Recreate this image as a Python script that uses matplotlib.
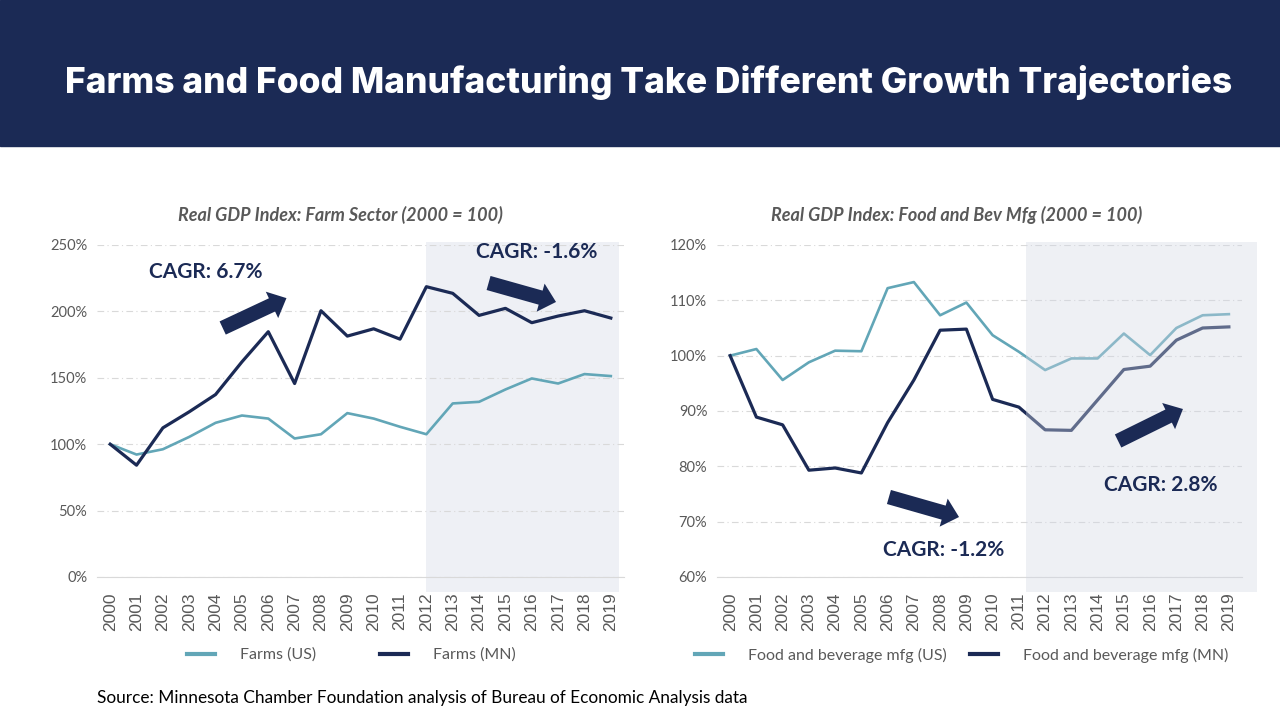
import matplotlib
matplotlib.use("Agg")
import matplotlib.pyplot as plt
import matplotlib.ticker as mticker
from matplotlib.patches import Rectangle

# --- data ---
years = [str(y) for y in range(2000, 2020)]

farms_us = [100, 92.2, 96.2, 105.5, 116.1, 121.6, 119.3, 104.3, 107.5, 123.4,
            119.3, 113.1, 107.5, 130.7, 131.9, 141.2, 149.5, 145.7, 152.8, 151.3]
farms_mn = [100, 84.2, 112.3, 124.4, 137.4, 162.0, 184.7, 145.7, 200.5, 181.4,
            186.9, 179.1, 218.6, 213.6, 197.0, 202.3, 191.5, 196.5, 200.5, 195.0]

food_us = [100, 101.2, 95.6, 98.8, 100.9, 100.8, 112.2, 113.3, 107.3, 109.6,
           103.7, 100.7, 97.4, 99.5, 99.5, 104.0, 100.1, 105.0, 107.3, 107.5]
food_mn = [100, 88.9, 87.5, 79.3, 79.7, 78.8, 87.9, 95.6, 104.6, 104.8,
           92.1, 90.7, 86.6, 86.5, 92.0, 97.5, 98.1, 102.8, 105.0, 105.2]

NAVY = "#1b2a55"
TEAL = "#62a6b7"
GREY = "#595959"
SHADE = "#eef0f5"

fig = plt.figure(figsize=(12.8, 7.2), dpi=100)
fig.patch.set_facecolor("white")

# header banner
fig.patches.append(Rectangle((0, 1 - 146 / 720), 1, 146 / 720, transform=fig.transFigure,
                             color=NAVY, zorder=0))
fig.text(65 / 1280, 1 - 82 / 720, "Farms and Food Manufacturing Take Different Growth Trajectories",
         color="white", fontsize=25.5, fontweight=800, family="Inter", ha="left", va="center")

ax1 = fig.add_axes([97 / 1280, 1 - 577 / 720, 527 / 1280, 332 / 720])
ax2 = fig.add_axes([717 / 1280, 1 - 577 / 720, 525 / 1280, 332 / 720])

x = list(range(len(years)))


def style_axis(ax, ylim, step):
    ax.set_xlim(-0.5, len(years) - 0.5)
    ax.set_ylim(*ylim)
    ax.yaxis.set_major_locator(mticker.MultipleLocator(step))
    ax.yaxis.set_major_formatter(mticker.FuncFormatter(lambda v, p: f"{v:.0f}%"))
    for s in ["top", "right", "left"]:
        ax.spines[s].set_visible(False)
    ax.spines["bottom"].set_color("#d9d9d9")
    ax.spines["bottom"].set_zorder(1)
    ax.grid(axis="y", color="#d9d9d9", linestyle=(0, (6, 3, 1, 3)), linewidth=0.8)
    ax.set_axisbelow(True)
    ax.set_xticks(x)
    ax.set_xticklabels(years, rotation=90, fontsize=12.5, color=GREY, family="Liberation Sans")
    ax.tick_params(axis="x", length=0, pad=11)
    ax.tick_params(axis="y", length=0, pad=7, labelsize=10.5, labelcolor=GREY)
    for lab in ax.get_yticklabels():
        lab.set_family("Lato")


style_axis(ax1, (0, 250), 50)
style_axis(ax2, (60, 120), 10)

# shaded periods
ax1.axvspan(11.98, 19.3, ymin=-0.045, ymax=1.009, color=SHADE, zorder=0.5, clip_on=False, lw=0)
ax2.axvspan(11.27, 20.07, ymin=-0.045, ymax=1.009, color="#d3d8e4", alpha=0.38, zorder=3,
            clip_on=False, lw=0)

ax1.plot(x, farms_us, color=TEAL, lw=1.9, label="Farms (US)", zorder=2)
ax1.plot(x, farms_mn, color=NAVY, lw=2.3, label="Farms (MN)", zorder=2)
ax2.plot(x, food_us, color=TEAL, lw=1.9, label="Food and beverage mfg (US)", zorder=2)
ax2.plot(x, food_mn, color=NAVY, lw=2.3, label="Food and beverage mfg (MN)", zorder=2)

# subtitles
sub_kw = dict(color=GREY, fontsize=13, fontweight="bold", style="italic", family="Lato",
              ha="center", va="center")
fig.text(340 / 1280, 1 - 215 / 720, "Real GDP Index: Farm Sector (2000 = 100)", **sub_kw)
fig.text(957 / 1280, 1 - 215 / 720, "Real GDP Index: Food and Bev Mfg (2000 = 100)", **sub_kw)

# CAGR annotations
cagr_kw = dict(color=NAVY, fontsize=15, fontweight="bold", family="Lato",
               ha="center", va="center", zorder=5)
ax1.text(3.63, 229.7, "CAGR: 6.7%", **cagr_kw)
ax1.text(16.17, 244.7, "CAGR: -1.6%", **cagr_kw)
ax2.text(8.15, 64.9, "CAGR: -1.2%", **cagr_kw)
ax2.text(16.41, 76.6, "CAGR: 2.8%", **cagr_kw)

arrow_kw = dict(arrowstyle="simple,head_length=1.15,head_width=2.1,tail_width=1.05",
                color=NAVY, mutation_scale=10, shrinkA=0, shrinkB=0, lw=0)
ax1.annotate("", xy=(6.69, 210), xytext=(4.27, 187.5), arrowprops=arrow_kw, zorder=5)
ax1.annotate("", xy=(16.92, 207.1), xytext=(14.36, 221.4), arrowprops=arrow_kw, zorder=5)
ax2.annotate("", xy=(8.72, 70.84), xytext=(6.05, 74.46), arrowprops=arrow_kw, zorder=5)
ax2.annotate("", xy=(17.25, 90.36), xytext=(14.78, 84.58), arrowprops=arrow_kw, zorder=5)

# legends
for ax, cx, cs in [(ax1, 0.483, 4.0), (ax2, 0.466, 1.45)]:
    leg = ax.legend(loc="center", bbox_to_anchor=(cx, -0.235), ncol=2, frameon=False,
                    handlelength=1.75, handletextpad=1.55, columnspacing=cs,
                    prop={"family": "Lato", "size": 11.5})
    for line in leg.get_lines():
        line.set_linewidth(3)
    for t in leg.get_texts():
        t.set_color(GREY)

fig.text(97 / 1280, 1 - 698 / 720,
         "Source: Minnesota Chamber Foundation analysis of Bureau of Economic Analysis data",
         fontsize=12.4, family="Lato", color="black", ha="left", va="center")

fig.savefig("out.png", dpi=100)
